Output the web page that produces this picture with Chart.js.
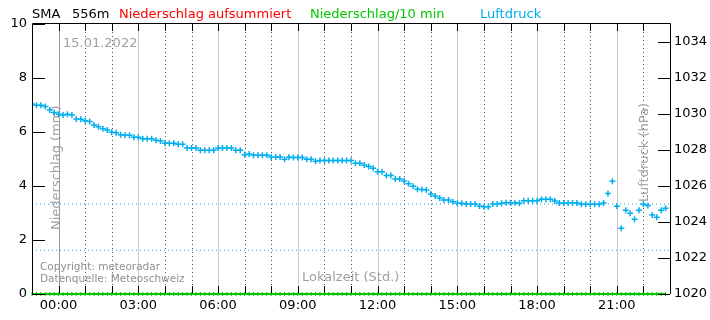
<!DOCTYPE html>
<html>
<head>
<meta charset="utf-8">
<script src="https://cdn.jsdelivr.net/npm/chart.js@4"></script>
<style>
  html, body { margin: 0; padding: 0; background: #fff; }
  canvas { display: block; }
</style>
</head>
<body>
<canvas id="chart" width="710" height="320"></canvas>
<script>
// Station SMA (556 m), 15.01.2022 -- 10-Minuten-Werte ab 23:00 Vortag
const stationName = 'SMA';
const stationHeight = '556m';
const dateLabel = '15.01.2022';
const startHour = -1;       // 23:00 am Vortag
const stepHours = 1 / 6;    // 10 min

// Luftdruck (hPa)
const luftdruck = [
  1030.56, 1030.48, 1030.48, 1030.41, 1030.22, 1030.09, 1029.98, 1029.94, 1029.98, 1029.94, 1029.72, 1029.71,
  1029.63, 1029.59, 1029.39, 1029.29, 1029.18, 1029.11, 1028.98, 1028.96, 1028.85, 1028.82, 1028.82, 1028.71,
  1028.71, 1028.63, 1028.63, 1028.63, 1028.54, 1028.50, 1028.37, 1028.37, 1028.37, 1028.32, 1028.32, 1028.11,
  1028.11, 1028.11, 1027.98, 1027.98, 1027.98, 1027.98, 1028.11, 1028.11, 1028.11, 1028.11, 1027.98, 1027.98,
  1027.74, 1027.78, 1027.71, 1027.71, 1027.71, 1027.71, 1027.61, 1027.61, 1027.61, 1027.48, 1027.60, 1027.59,
  1027.59, 1027.59, 1027.48, 1027.48, 1027.37, 1027.41, 1027.41, 1027.41, 1027.41, 1027.41, 1027.41, 1027.41,
  1027.41, 1027.26, 1027.26, 1027.17, 1027.09, 1026.98, 1026.79, 1026.79, 1026.59, 1026.59, 1026.39, 1026.39,
  1026.28, 1026.13, 1025.98, 1025.82, 1025.80, 1025.78, 1025.56, 1025.44, 1025.33, 1025.22, 1025.22, 1025.13,
  1025.04, 1025.04, 1025.00, 1025.00, 1025.00, 1024.89, 1024.85, 1024.85, 1025.00, 1025.00, 1025.04, 1025.07,
  1025.07, 1025.07, 1025.04, 1025.18, 1025.18, 1025.18, 1025.18, 1025.26, 1025.27, 1025.27, 1025.17, 1025.06,
  1025.06, 1025.06, 1025.06, 1025.06, 1024.98, 1024.98, 1024.98, 1024.98, 1024.98, 1025.06, 1025.59, 1026.26,
  1024.87, 1023.65, 1024.65, 1024.48, 1024.15, 1024.65, 1024.98, 1024.91, 1024.39, 1024.26, 1024.65, 1024.76
];

// Niederschlag pro 10 min (mm) -- kein Niederschlag an diesem Tag
const niederschlag10 = [
  0, 0, 0, 0, 0, 0, 0, 0, 0, 0, 0, 0,
  0, 0, 0, 0, 0, 0, 0, 0, 0, 0, 0, 0,
  0, 0, 0, 0, 0, 0, 0, 0, 0, 0, 0, 0,
  0, 0, 0, 0, 0, 0, 0, 0, 0, 0, 0, 0,
  0, 0, 0, 0, 0, 0, 0, 0, 0, 0, 0, 0,
  0, 0, 0, 0, 0, 0, 0, 0, 0, 0, 0, 0,
  0, 0, 0, 0, 0, 0, 0, 0, 0, 0, 0, 0,
  0, 0, 0, 0, 0, 0, 0, 0, 0, 0, 0, 0,
  0, 0, 0, 0, 0, 0, 0, 0, 0, 0, 0, 0,
  0, 0, 0, 0, 0, 0, 0, 0, 0, 0, 0, 0,
  0, 0, 0, 0, 0, 0, 0, 0, 0, 0, 0, 0,
  0, 0, 0, 0, 0, 0, 0, 0, 0, 0, 0, 0
];

// gepunktete Hilfslinien Luftdruck (hPa)
const druckLinien = [1025.0, 1022.43];

const xTickHours  = [0, 3, 6, 9, 12, 15, 18, 21];
const xTickLabels = ['00:00', '03:00', '06:00', '09:00', '12:00', '15:00', '18:00', '21:00'];

const COL_LUFT  = '#00aeef';
const COL_SUM   = '#ff0000';
const COL_10MIN = '#00c800';
const COL_GRAY_TEXT = '#a0a0a0';

const LBL_SUM   = 'Niederschlag aufsummiert';
const LBL_10MIN = 'Niederschlag/10 min';
const LBL_LUFT  = 'Luftdruck';

// --- Daten aufbereiten ---
const toXY = arr => arr.map((v, i) => ({ x: startHour + i * stepHours, y: v }));

let acc = 0;
const niederschlagSumme = niederschlag10.map(v => (acc += v));

const refDatasets = druckLinien.map(p => ({
  label: '',
  data: [{ x: startHour, y: p }, { x: startHour + 24, y: p }],
  yAxisID: 'y2',
  borderColor: COL_LUFT,
  borderWidth: 1,
  borderDash: [1, 3],
  pointRadius: 0
}));

// --- Rahmen, Stundenlinien, Texte ---
const meteoFrame = {
  id: 'meteoFrame',
  beforeDraw(chart) {
    const ctx = chart.ctx;
    ctx.save();
    ctx.fillStyle = '#fff';
    ctx.fillRect(0, 0, chart.width, chart.height);
    ctx.restore();
  },
  beforeDatasetsDraw(chart) {
    const { ctx, chartArea: a, scales } = chart;
    const xs = scales.x;
    ctx.save();
    ctx.lineWidth = 1;
    for (let h = 0; h <= 22; h++) {
      const px = Math.round(xs.getPixelForValue(h)) + 0.5;
      ctx.beginPath();
      if (h % 3 === 0) {
        ctx.setLineDash([]);
        ctx.strokeStyle = h === 0 ? '#999' : '#c8c8c8';
      } else {
        ctx.setLineDash([1, 3]);
        ctx.strokeStyle = '#555';
      }
      ctx.moveTo(px, a.top);
      ctx.lineTo(px, a.bottom);
      ctx.stroke();
    }
    ctx.setLineDash([]);

    // graue Beschriftungen im Diagramm
    ctx.fillStyle = COL_GRAY_TEXT;
    ctx.textBaseline = 'alphabetic';
    ctx.textAlign = 'left';
    ctx.font = '13px "DejaVu Sans"';
    ctx.fillText(dateLabel, 63, 47);
    ctx.fillText('Lokalzeit (Std.)', 302, 281);

    ctx.fillStyle = '#909090';
    ctx.font = '10.5px "DejaVu Sans"';
    ctx.fillText('Copyright: meteoradar', 40, 270);
    ctx.fillText('Datenquelle: Meteoschweiz', 40, 282);

    ctx.fillStyle = COL_GRAY_TEXT;
    ctx.font = '13px "DejaVu Sans"';
    ctx.save();
    ctx.translate(60, 230);
    ctx.rotate(-Math.PI / 2);
    ctx.fillText('Niederschlag (mm)', 0, 0);
    ctx.restore();
    ctx.save();
    ctx.translate(648, 202);
    ctx.rotate(-Math.PI / 2);
    ctx.fillText('Luftdruck (hPa)', 0, 0);
    ctx.restore();
    ctx.restore();
  },
  afterDatasetsDraw(chart) {
    const { ctx, chartArea: a, scales } = chart;
    ctx.save();
    ctx.strokeStyle = '#000';
    ctx.lineWidth = 1;
    ctx.beginPath();
    // Rahmen links / oben / rechts
    ctx.moveTo(a.left + 0.5, a.bottom);
    ctx.lineTo(a.left + 0.5, a.top - 0.5);
    ctx.lineTo(a.right + 0.5, a.top - 0.5);
    ctx.lineTo(a.right + 0.5, a.bottom);
    // Stundenstriche oben und unten
    for (let h = 0; h <= 22; h++) {
      const px = Math.round(scales.x.getPixelForValue(h)) + 0.5;
      ctx.moveTo(px, a.top);
      ctx.lineTo(px, a.top + 7);
      ctx.moveTo(px, a.bottom - 8);
      ctx.lineTo(px, a.bottom - 1);
    }
    // Achsenstriche innen
    scales.y.ticks.forEach(t => {
      const py = Math.round(scales.y.getPixelForValue(t.value)) + 0.5;
      ctx.moveTo(a.left, py);
      ctx.lineTo(a.left + 13, py);
    });
    scales.y2.ticks.forEach(t => {
      const py = Math.round(scales.y2.getPixelForValue(t.value)) + 0.5;
      ctx.moveTo(a.right - 12, py);
      ctx.lineTo(a.right, py);
    });
    ctx.stroke();

    // Legende als Titelzeile
    ctx.font = '13px "DejaVu Sans"';
    ctx.textBaseline = 'alphabetic';
    ctx.textAlign = 'left';
    const head = [
      [stationName, 32, '#000'],
      [stationHeight, 72, '#000'],
      [LBL_SUM, 119, COL_SUM],
      [LBL_10MIN, 310, COL_10MIN],
      [LBL_LUFT, 480, COL_LUFT]
    ];
    head.forEach(([txt, x, col]) => {
      ctx.fillStyle = col;
      ctx.fillText(txt, x, 18);
    });
    ctx.restore();
  }
};

Chart.defaults.font.family = '"DejaVu Sans", sans-serif';
Chart.defaults.font.size = 13;
Chart.defaults.color = '#000';

new Chart(document.getElementById('chart'), {
  type: 'line',
  data: {
    datasets: [
      {
        label: LBL_LUFT,
        data: toXY(luftdruck),
        yAxisID: 'y2',
        showLine: false,
        pointStyle: 'cross',
        pointRadius: 3,
        borderColor: COL_LUFT,
        borderWidth: 1.5
      },
      ...refDatasets,
      {
        label: LBL_10MIN,
        data: toXY(niederschlag10),
        yAxisID: 'y',
        borderColor: COL_10MIN,
        borderWidth: 2,
        pointStyle: 'line',
        pointRotation: 90,
        pointRadius: 2,
        pointBorderWidth: 1,
        clip: 4
      },
      {
        label: LBL_SUM,
        data: toXY(niederschlagSumme),
        yAxisID: 'y',
        borderColor: COL_SUM,
        borderWidth: 2,
        pointRadius: 0,
        clip: 4
      }
    ]
  },
  options: {
    responsive: false,
    animation: false,
    events: [],
    layout: { padding: { top: 24 } },
    plugins: {
      legend: { display: false },
      tooltip: { enabled: false }
    },
    scales: {
      x: {
        type: 'linear',
        min: startHour,
        max: startHour + 24,
        grid: { display: false, drawTicks: false },
        border: { display: false },
        afterFit: s => { s.height = 26; },
        ticks: {
          stepSize: 1,
          autoSkip: false,
          maxRotation: 0,
          padding: 4,
          callback: v => {
            const i = xTickHours.indexOf(v);
            return i >= 0 ? xTickLabels[i] : '';
          }
        }
      },
      y: {
        position: 'left',
        min: 0,
        max: 10,
        grid: { display: false, drawTicks: false },
        border: { display: false },
        afterFit: s => { s.width = 32; },
        ticks: { stepSize: 2, padding: 5, callback: v => String(v) }
      },
      y2: {
        position: 'right',
        min: 1020,
        max: 1035,
        grid: { display: false, drawTicks: false },
        border: { display: false },
        afterFit: s => { s.width = 40; },
        ticks: { stepSize: 2, padding: 4, includeBounds: false, callback: v => String(v) }
      }
    }
  },
  plugins: [meteoFrame]
});
</script>
</body>
</html>
